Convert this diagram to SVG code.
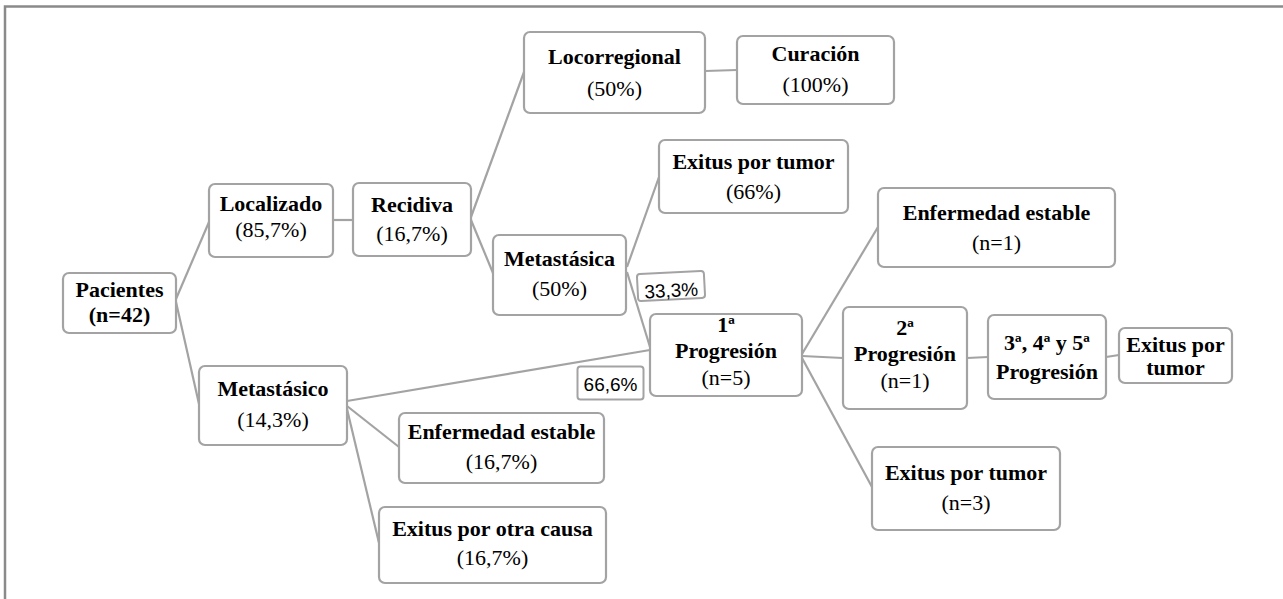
<svg xmlns="http://www.w3.org/2000/svg" width="1283" height="599" viewBox="0 0 1283 599">
<style>
.box{fill:#fff;stroke:#a3a3a3;stroke-width:2.2}
.lbl{fill:#fff;stroke:#a3a3a3;stroke-width:2}
.b{font-family:"Liberation Serif","Times New Roman",serif;font-size:22px;font-weight:bold;fill:#000;text-anchor:middle}
.r{font-family:"Liberation Serif","Times New Roman",serif;font-size:22px;fill:#000;text-anchor:middle}
.s{font-family:"Liberation Sans",Arial,sans-serif;font-size:19px;fill:#000;text-anchor:middle}
.c line{stroke:#a3a3a3;stroke-width:2.2}
</style>
<rect width="1283" height="599" fill="#fff"/>
<path d="M5,599 V6.5 H1283" fill="none" stroke="#8a8a8a" stroke-width="2.5"/>
<g class="c" id="connectors">
<line x1="176" y1="299" x2="209" y2="222"/>
<line x1="176" y1="302" x2="199" y2="404"/>
<line x1="333" y1="220" x2="353" y2="220"/>
<line x1="471" y1="217" x2="524" y2="72"/>
<line x1="471" y1="220" x2="493" y2="273"/>
<line x1="705" y1="71" x2="737" y2="70"/>
<line x1="627" y1="267" x2="659" y2="177"/>
<line x1="627" y1="272" x2="650" y2="347"/>
<line x1="347" y1="401" x2="650" y2="350"/>
<line x1="347" y1="406" x2="399" y2="447"/>
<line x1="347" y1="409" x2="379" y2="543"/>
<line x1="802" y1="354" x2="878" y2="227"/>
<line x1="802" y1="356" x2="843" y2="358"/>
<line x1="802" y1="358" x2="872" y2="487"/>
<line x1="967" y1="358" x2="988" y2="357"/>
<line x1="1106" y1="357" x2="1119" y2="355"/>
</g>
<g id="pacientes"><rect class="box" x="63" y="273" width="113" height="60" rx="6"/><text class="b" x="119.5" y="297">Pacientes</text><text class="b" x="119.5" y="322">(n=42)</text></g>
<g id="localizado"><rect class="box" x="209" y="184" width="124" height="73" rx="6"/><text class="b" x="271" y="211">Localizado</text><text class="r" x="271" y="237">(85,7%)</text></g>
<g id="recidiva"><rect class="box" x="353" y="183" width="118" height="73" rx="6"/><text class="b" x="412" y="212">Recidiva</text><text class="r" x="412" y="241">(16,7%)</text></g>
<g id="locorregional"><rect class="box" x="524" y="32" width="181" height="81" rx="6"/><text class="b" x="614.5" y="64">Locorregional</text><text class="r" x="614.5" y="96">(50%)</text></g>
<g id="curacion"><rect class="box" x="737" y="36" width="157" height="68" rx="6"/><text class="b" x="815.5" y="61">Curación</text><text class="r" x="815.5" y="92">(100%)</text></g>
<g id="exitus66"><rect class="box" x="659" y="140" width="189" height="73" rx="6"/><text class="b" x="753.5" y="169">Exitus por tumor</text><text class="r" x="753.5" y="199">(66%)</text></g>
<g id="metastasica"><rect class="box" x="493" y="235" width="133" height="80" rx="6"/><text class="b" x="559.5" y="266">Metastásica</text><text class="r" x="559.5" y="296">(50%)</text></g>
<g id="label33"><rect class="lbl" x="637.5" y="272.5" width="67" height="27" rx="3" transform="rotate(-3 671 286)"/><text class="s" x="671" y="297" transform="rotate(-3 671 286)">33,3%</text></g>
<g id="enfermedad1"><rect class="box" x="878" y="188" width="237" height="79" rx="6"/><text class="b" x="996.5" y="220">Enfermedad estable</text><text class="r" x="996.5" y="250">(n=1)</text></g>
<g id="metastasico"><rect class="box" x="199" y="366" width="148" height="79" rx="6"/><text class="b" x="273" y="396">Metastásico</text><text class="r" x="273" y="427">(14,3%)</text></g>
<g id="enfermedad167"><rect class="box" x="399" y="413" width="205" height="70" rx="6"/><text class="b" x="501.5" y="439">Enfermedad estable</text><text class="r" x="501.5" y="469">(16,7%)</text></g>
<g id="exitusotra"><rect class="box" x="379" y="507" width="227" height="76" rx="6"/><text class="b" x="492.5" y="536">Exitus por otra causa</text><text class="r" x="492.5" y="565">(16,7%)</text></g>
<g id="progresion1"><rect class="box" x="650" y="314" width="152" height="82" rx="6"/><text class="b" x="726" y="332">1ª</text><text class="b" x="726" y="358">Progresión</text><text class="r" x="726" y="385">(n=5)</text></g>
<g id="label66"><rect class="lbl" x="577.5" y="366.5" width="66" height="33" rx="3"/><text class="s" x="610.5" y="391">66,6%</text></g>
<g id="progresion2"><rect class="box" x="843" y="307" width="124" height="102" rx="6"/><text class="b" x="905" y="335">2ª</text><text class="b" x="905" y="361">Progresión</text><text class="r" x="905" y="388">(n=1)</text></g>
<g id="progresion345"><rect class="box" x="988" y="315" width="118" height="84" rx="6"/><text class="b" x="1047" y="350">3ª, 4ª y 5ª</text><text class="b" x="1047" y="379">Progresión</text></g>
<g id="exitusfinal"><rect class="box" x="1119" y="328" width="113" height="55" rx="6"/><text class="b" x="1175.5" y="352">Exitus por</text><text class="b" x="1175.5" y="375">tumor</text></g>
<g id="exitusn3"><rect class="box" x="872" y="447" width="188" height="83" rx="6"/><text class="b" x="966" y="480">Exitus por tumor</text><text class="r" x="966" y="510">(n=3)</text></g>
</svg>
